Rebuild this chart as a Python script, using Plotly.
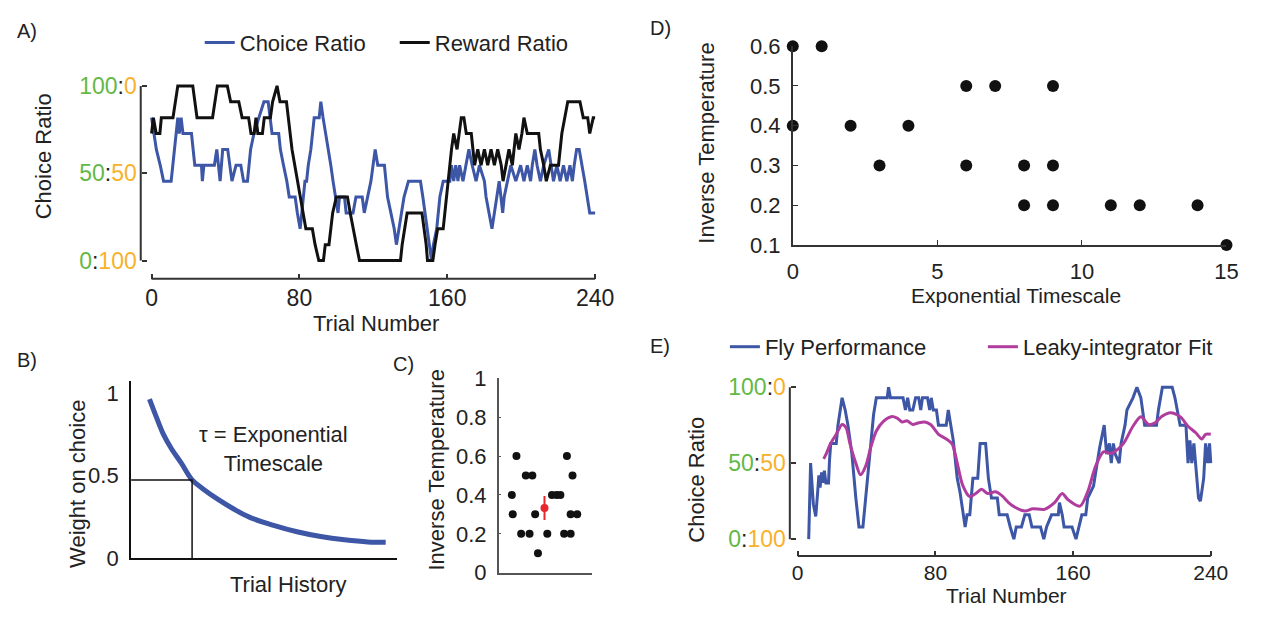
import plotly.graph_objects as go

W, H = 1270, 619
def px(x): return x / W
def py(y): return 1 - y / H

BLUE = "#3d56a6"
BLACK = "#111111"
MAGENTA = "#b03d9e"
GREEN = "#63b846"
ORANGE = "#f7b12b"
RED = "#e8262b"
TXT = "#222222"
AX = "#333333"
FONT = "Liberation Sans, Arial, sans-serif"

# ---------------- Panel A: choice ratio vs reward ratio (levels in elevenths) -------------
a_choice_trial = [0, 1.2, 2.6, 4.7, 6.5, 10.6, 12.4, 14.2, 15, 16, 17, 21.6, 23.4, 27, 27.5, 28.3,
                  34, 35.3, 37.1, 38.5, 41.2, 43.5, 45.7, 48.3, 49.8, 51.9, 53.6, 55.4, 58.1, 60.8,
                  63.1, 64.3, 65.2, 68.8, 69.7, 71.4, 73.2, 74.5, 77.7, 78.9, 80.4, 81.3, 83, 83.9,
                  84.8, 86.2, 88, 90.7, 91.6, 92.8, 94.3, 95.5, 97, 98.2, 99.6, 100.9, 101.7, 104.4,
                  105.3, 109, 110.6, 114, 115.1, 116.9, 118.7, 121, 122.4, 126, 127.7, 129.5, 131.3,
                  132.5, 134, 136.6, 139, 145.5, 146.8, 148, 149, 150.5, 151.5, 152.5, 154.3, 156,
                  157.8, 161.4, 162.3, 163.5, 164.6, 165.8, 166.7, 168.5, 170.3, 171.7, 173.5, 175.6,
                  177.4, 180.1, 181, 182.8, 184.2, 185.5, 186.7, 188.1, 190, 190.8, 192.6, 194.4,
                  197.1, 199.7, 201.5, 203.3, 205.1, 206, 207.4, 208.6, 210.4, 212.2, 214.9, 216.3,
                  217.5, 219.3, 221.1, 222.9, 224.7, 226.4, 227.7, 228.7, 230, 231.4, 232.7, 234.4,
                  237.1, 240]
a_choice_level = [9, 8, 7, 6, 5, 5, 7, 9, 8, 9, 8, 8, 6, 6, 5, 6,
                  6, 7, 5, 7, 7, 5, 6, 6, 5, 5, 7, 8, 9, 10,
                  10, 9, 8, 8, 7, 6, 5, 4, 4, 3, 2, 3, 5, 5,
                  6, 7, 9, 9, 10, 9, 8, 7, 6, 5, 4, 3, 4, 4,
                  3, 3, 4, 4, 3, 4, 5, 7, 6, 6, 4, 3, 2,
                  1, 2, 4, 5, 5, 4, 3, 2, 1, 0, 1, 2, 4,
                  5, 5, 6, 5, 6, 5, 6, 5, 6, 7, 6, 5,
                  6, 5, 4, 3, 2, 3, 4, 5, 3, 4, 5, 6,
                  5, 6, 5, 6, 5, 6, 7, 6, 5, 6, 7, 6,
                  5, 6, 5, 6, 5, 6, 5, 6, 7, 7, 6, 5,
                  3, 3]

a_reward_trial = [0, 1, 2.5, 4.5, 5.3, 11.6, 14.2, 22.3, 24.6, 33, 35.6, 41, 42.8, 47.2, 49, 52.5,
                  53.8, 55.5, 56.5, 57.5, 60, 61, 64.3, 65.5, 67.9, 69.5, 73, 74, 75, 76, 77.5, 79,
                  80.5, 82, 83.5, 87, 88.5, 90.5, 93, 94, 96, 97, 98, 100, 106, 107.5, 109, 110.8,
                  112.5, 134.7, 135.6, 138.3, 146.3, 147.5, 148.6, 149.3, 152.2, 153.4, 154.8, 157.8,
                  158.8, 160.5, 162.3, 163.5, 165.3, 166.4, 167.6, 169, 170.3, 173, 174.8, 176.5,
                  178.3, 180.1, 181.9, 183.7, 185.5, 187.3, 189.2, 190.2, 191.6, 193.4, 195.2, 197.1,
                  198.8, 200.4, 201.5, 203.3, 209.5, 210.4, 212.2, 213.6, 215.8, 220.2, 222, 223.4,
                  225.2, 231.8, 233.6, 236, 237.1, 239, 240]
a_reward_level = [8, 9, 8, 8, 9, 9, 11, 11, 9, 9, 11, 11, 10, 10, 9, 9,
                  8, 8, 9, 8, 8, 9, 9, 10, 11, 10, 10, 9, 8, 7, 6, 5,
                  4, 3, 2, 2, 1, 0, 0, 1, 1, 2, 3, 4, 4, 3, 2, 1,
                  0, 0, 1, 3, 3, 2, 1, 0, 0, 1, 2, 2,
                  3, 5, 7, 8, 7, 8, 9, 9, 8, 8, 6, 7,
                  6, 7, 6, 7, 6, 7, 6, 5, 6, 7, 6, 8,
                  7, 8, 9, 8, 8, 7, 6, 5, 6, 6, 8, 9,
                  10, 10, 9, 9, 8, 9, 9]
a_levels = 11
a_ticks = [0, 80, 160, 240]

# ---------------- Panel B: schematic exponential weighting ----------------
b_hist = [0.069, 0.092, 0.121, 0.151, 0.188, 0.229, 0.269, 0.328, 0.387, 0.446, 0.535, 0.623,
          0.712, 0.801, 0.889, 0.956]
b_weight = [0.965, 0.868, 0.752, 0.665, 0.578, 0.475, 0.422, 0.355, 0.297, 0.248, 0.200, 0.161,
            0.132, 0.112, 0.099, 0.097]
b_tau_x = 0.229
b_half_y = 0.475

# ---------------- Panel C: inverse temperature per fly ----------------
c_pos = [0.19, 0.14, 0.15, 0.29, 0.36, 0.24, 0.33, 0.39, 0.42, 0.52, 0.57, 0.62, 0.66, 0.73,
         0.79, 0.77, 0.84, 0.70, 0.77]
c_beta = [0.6, 0.4, 0.3, 0.5, 0.5, 0.2, 0.2, 0.3, 0.1, 0.2, 0.4, 0.4, 0.4, 0.6,
          0.5, 0.3, 0.3, 0.2, 0.2]
c_mean_pos = [0.49]
c_mean = [0.333]
c_err = [0.062]

# ---------------- Panel D: timescale vs inverse temperature ----------------
d_tau = [0, 1, 0, 2, 4, 3, 6, 7, 9, 6, 8, 9, 8, 9, 11, 12, 14, 15]
d_beta = [0.6, 0.6, 0.4, 0.4, 0.4, 0.3, 0.5, 0.5, 0.5, 0.3, 0.3, 0.3, 0.2, 0.2, 0.2, 0.2, 0.2, 0.1]

# ---------------- Panel E: fly performance and leaky-integrator fit ----------------
e_fly_trial = [6.4, 7.5, 9.1, 10.5, 11.6, 12.3, 13.0, 13.9, 14.6, 15.5, 16.4, 17.9, 18.5, 19.2,
               22.4, 23.4, 25.8, 27.6, 29.2, 31.5, 33.8, 35.6, 37.9, 39.5, 41.8, 44.1, 45.7, 52.0,
               52.8, 53.9, 61.2, 62.6, 63.9, 65.1, 66.9, 68.5, 70.3, 71.5, 72.5, 75.4, 76.7, 77.6,
               78.8, 80.6, 81.8, 86.3, 87.5, 89.1, 90.4, 92.7, 94.3, 97.3, 98.4, 100.0, 101.8,
               104.6, 106.0, 109.2, 110.8, 112.6, 116.0, 117.1, 121.7, 123.5, 125.6, 127.0, 130.0,
               132.0, 134.5, 136.1, 141.1, 143.0, 144.6, 147.5, 151.4, 152.1, 153.7, 154.8, 159.4,
               161.7, 163.5, 165.1, 167.4, 168.5, 171.9, 173.6, 175.4, 178.1, 179.5, 181.1, 182.2,
               183.4, 184.5, 186.8, 187.9, 190.2, 191.3, 194.8, 197.1, 199.4, 201.6, 208.5, 209.6,
               211.9, 217.6, 219.2, 222.2, 225.6, 226.8, 227.9, 229.0, 230.2, 231.3, 232.9, 234.0,
               235.9, 237.0, 238.2, 239.3, 240.0]
e_fly_ratio = [0.0, 0.50, 0.23, 0.15, 0.31, 0.42, 0.34, 0.44, 0.37, 0.45, 0.37, 0.37, 0.52, 0.63,
               0.63, 0.75, 0.93, 0.85, 0.75, 0.56, 0.27, 0.08, 0.08, 0.27, 0.50, 0.82, 0.93, 0.93,
               1.00, 0.93, 0.93, 0.85, 0.93, 0.85, 0.85, 0.93, 0.93, 0.85, 0.93, 0.93, 0.85, 0.93,
               0.85, 0.85, 0.75, 0.75, 0.85, 0.75, 0.65, 0.40, 0.31, 0.08, 0.16, 0.16, 0.40,
               0.40, 0.63, 0.63, 0.40, 0.27, 0.27, 0.16, 0.16, 0.08, 0.0, 0.08, 0.08,
               0.16, 0.16, 0.08, 0.08, 0.0, 0.08, 0.16, 0.16, 0.24, 0.16, 0.08, 0.08,
               0.0, 0.08, 0.16, 0.16, 0.27, 0.35, 0.48, 0.60, 0.75, 0.56, 0.63, 0.50,
               0.63, 0.56, 0.50, 0.63, 0.75, 0.85, 0.93, 1.00, 0.93, 0.75, 0.75, 0.85,
               1.00, 1.00, 0.93, 0.75, 0.75, 0.50, 0.65, 0.50, 0.63, 0.50, 0.27, 0.25,
               0.40, 0.63, 0.50, 0.63, 0.50]
e_fit_trial = [15.1, 16.7, 19.0, 22.4, 25.8, 28.1, 30.4, 33.8, 36.5, 39.5, 42.5, 45.7, 49.8, 54.4,
               57.8, 60.7, 63.5, 66.9, 69.9, 73.8, 77.2, 81.8, 86.3, 89.7, 92.7, 95.9, 100.0, 103.4,
               106.9, 110.3, 114.9, 118.3, 124.0, 132.0, 136.6, 143.4, 149.1, 153.7, 157.1, 164.0,
               168.5, 173.1, 177.7, 182.2, 189.1, 194.8, 199.4, 203.9, 207.4, 211.9, 216.5, 222.2,
               226.8, 231.3, 234.8, 237.0, 240.0]
e_fit_ratio = [0.528, 0.564, 0.627, 0.690, 0.754, 0.733, 0.627, 0.500, 0.423, 0.480, 0.606, 0.712,
               0.775, 0.806, 0.796, 0.771, 0.779, 0.754, 0.764, 0.771, 0.754, 0.690, 0.659, 0.627,
               0.500, 0.354, 0.280, 0.300, 0.328, 0.300, 0.312, 0.290, 0.227, 0.185, 0.200, 0.196,
               0.238, 0.300, 0.259, 0.217, 0.312, 0.480, 0.575, 0.564, 0.627, 0.743, 0.806, 0.754,
               0.764, 0.810, 0.832, 0.806, 0.743, 0.700, 0.659, 0.690, 0.690]
e_ticks = [0, 80, 160, 240]

ratio_vals = [0, 0.5, 1]
ratio_left = ["0", "50", "100"]
ratio_right = ["100", "50", "0"]


def ratio_text(a, b):
    return f'<span style="color:{GREEN}">{a}</span>:<span style="color:{ORANGE}">{b}</span>'


ratio_ticktext = [ratio_text(a, b) for a, b in zip(ratio_left, ratio_right)]

fig = go.Figure()

# Panel A traces
fig.add_trace(go.Scatter(x=a_choice_trial, y=[k / a_levels for k in a_choice_level], mode="lines",
                         line=dict(color=BLUE, width=3), name="Choice Ratio", legend="legend",
                         xaxis="x", yaxis="y"))
fig.add_trace(go.Scatter(x=a_reward_trial, y=[k / a_levels for k in a_reward_level], mode="lines",
                         line=dict(color=BLACK, width=3), name="Reward Ratio", legend="legend",
                         xaxis="x", yaxis="y"))

# Panel B traces
fig.add_trace(go.Scatter(x=b_hist, y=b_weight, mode="lines",
                         line=dict(color=BLUE, width=5, shape="spline", smoothing=1.0),
                         showlegend=False, xaxis="x2", yaxis="y2"))
fig.add_trace(go.Scatter(x=[0, b_tau_x, b_tau_x], y=[b_half_y, b_half_y, 0], mode="lines",
                         line=dict(color=BLACK, width=1.5), showlegend=False, xaxis="x2", yaxis="y2"))

# Panel C traces
fig.add_trace(go.Scatter(x=c_pos, y=c_beta, mode="markers", marker=dict(color=BLACK, size=8),
                         cliponaxis=False, showlegend=False, xaxis="x3", yaxis="y3"))
fig.add_trace(go.Scatter(x=c_mean_pos, y=c_mean, mode="markers", marker=dict(color=RED, size=8),
                         error_y=dict(type="data", array=c_err, color=RED, thickness=2, width=0),
                         cliponaxis=False, showlegend=False, xaxis="x3", yaxis="y3"))

# Panel D traces
fig.add_trace(go.Scatter(x=d_tau, y=d_beta, mode="markers", marker=dict(color=BLACK, size=12),
                         cliponaxis=False, showlegend=False, xaxis="x4", yaxis="y4"))

# Panel E traces
fig.add_trace(go.Scatter(x=e_fly_trial, y=e_fly_ratio, mode="lines", line=dict(color=BLUE, width=3),
                         name="Fly Performance", legend="legend2", xaxis="x5", yaxis="y5"))
fig.add_trace(go.Scatter(x=e_fit_trial, y=e_fit_ratio, mode="lines",
                         line=dict(color=MAGENTA, width=3, shape="spline", smoothing=0.8),
                         name="Leaky-integrator Fit", legend="legend2", xaxis="x5", yaxis="y5"))

tickfont = dict(size=22, color=TXT, family=FONT)
ratiofont = dict(size=23, color=TXT, family=FONT)
etickfont = dict(size=21, color=TXT, family=FONT)
base = dict(showgrid=False, zeroline=False, fixedrange=True)

layout = dict(
    width=W, height=H, margin=dict(l=0, r=0, t=0, b=0),
    paper_bgcolor="white", plot_bgcolor="white",
    font=dict(family=FONT, size=21, color=TXT),
    # A
    xaxis=dict(**base, domain=[px(144.24), px(602.76)], range=[-2, 242], anchor="free",
               position=py(278), showline=False, ticks="inside", ticklen=5, tickwidth=1.5,
               tickcolor=AX, tickvals=a_ticks, tickfont=ratiofont, ticklabelstandoff=3),
    yaxis=dict(**base, domain=[py(262.64), py(73.36)], range=[-0.02, 1.02], anchor="free",
               position=px(137), showline=False, ticks="inside", ticklen=5, tickwidth=1.5,
               tickcolor=AX, tickvals=ratio_vals, ticktext=ratio_ticktext, tickfont=ratiofont,
               ticklabelstandoff=4),
    # B
    xaxis2=dict(**base, domain=[px(127.2), px(398)], range=[0, 1], anchor="y2", showline=True,
                linecolor=BLACK, linewidth=2, ticks="", showticklabels=False),
    yaxis2=dict(**base, domain=[py(569.3), py(385)], range=[0, 1.0715], anchor="x2", showline=True,
                linecolor=BLACK, linewidth=2, ticks="", tickvals=[0, 0.5, 1],
                ticktext=["0", "0.5", "1"], tickfont=tickfont, ticklabelstandoff=6),
    # C
    xaxis3=dict(**base, domain=[px(501), px(596)], range=[0, 1], anchor="y3", showline=True,
                linecolor="#555555", linewidth=1.5, ticks="", showticklabels=False),
    yaxis3=dict(**base, domain=[py(584.3), py(381.7)], range=[0, 1], anchor="x3", showline=True,
                linecolor="#555555", linewidth=1.5, ticks="inside", ticklen=3, tickcolor="#555555",
                tickvals=[0, 0.2, 0.4, 0.6, 0.8, 1], ticktext=["0", "0.2", "0.4", "0.6", "0.8", "1"],
                tickfont=tickfont, ticklabelstandoff=6),
    # D
    xaxis4=dict(**base, domain=[px(800), px(1241)], range=[0, 15], anchor="y4", showline=True,
                linecolor=AX, linewidth=1.5, ticks="inside", ticklen=5, tickcolor=AX,
                tickvals=[0, 5, 10, 15], tickfont=tickfont, ticklabelstandoff=6),
    yaxis4=dict(**base, domain=[py(242.7), py(35.7)], range=[0.1, 0.6], anchor="x4", showline=True,
                linecolor=AX, linewidth=1.5, ticks="inside", ticklen=5, tickcolor=AX,
                tickvals=[0.1, 0.2, 0.3, 0.4, 0.5, 0.6], tickformat=".1f", tickfont=tickfont,
                ticklabelstandoff=6),
    # E
    xaxis5=dict(**base, domain=[px(801.5), px(1228.5)], range=[-2, 242], anchor="free",
                position=py(567), showline=False, ticks="inside", ticklen=5, tickwidth=1.5,
                tickcolor=AX, tickvals=e_ticks, tickfont=etickfont, ticklabelstandoff=2),
    yaxis5=dict(**base, domain=[py(552.5), py(387.8)], range=[-0.02, 1.02], anchor="free",
                position=px(797), showline=False, ticks="inside", ticklen=5, tickwidth=1.5,
                tickcolor=AX, tickvals=ratio_vals, ticktext=ratio_ticktext, tickfont=ratiofont,
                ticklabelstandoff=4),
    legend=dict(x=px(197), y=py(32), xanchor="left", yanchor="middle", orientation="h",
                font=dict(size=22, color=TXT), bgcolor="rgba(0,0,0,0)", entrywidth=150,
                entrywidthmode="pixels", itemwidth=30),
    legend2=dict(x=px(731), y=py(349), xanchor="left", yanchor="middle", orientation="h",
                 font=dict(size=22, color=TXT), bgcolor="rgba(0,0,0,0)", entrywidth=213,
                 entrywidthmode="pixels", itemwidth=30),
)

shapes = [
    # A detached axis lines
    dict(type="line", xref="x", yref="paper", x0=0, x1=240, y0=py(278), y1=py(278),
         line=dict(color=AX, width=2)),
    dict(type="line", xref="paper", yref="y", x0=px(137), x1=px(137), y0=0, y1=1,
         line=dict(color=AX, width=2)),
    # E detached axis lines
    dict(type="line", xref="x5", yref="paper", x0=0, x1=240, y0=py(567), y1=py(567),
         line=dict(color=AX, width=2)),
    dict(type="line", xref="paper", yref="y5", x0=px(797), x1=px(797), y0=0, y1=1,
         line=dict(color=AX, width=2)),
]
layout["shapes"] = shapes


def ann(text, x, y, size=21, angle=0, xanchor="center"):
    return dict(text=text, x=px(x), y=py(y), xref="paper", yref="paper", showarrow=False,
                xanchor=xanchor, yanchor="middle", textangle=angle,
                font=dict(size=size, color=TXT, family=FONT))


annotations = [
    ann("A)", 9, 20, 20, xanchor="left"),
    ann("B)", 9, 363, 20, xanchor="left"),
    ann("C)", 391, 367, 20, xanchor="left"),
    ann("D)", 653, 17, 20, xanchor="left"),
    ann("E)", 653, 348, 20, xanchor="left"),
    ann("Choice Ratio", 39, 150, 22, angle=-90),
    ann("Trial Number", 376, 325, 22),
    ann("Weight on choice", 72, 492, 22, angle=-90),
    ann("Trial History", 287, 597, 22),
    ann("Inverse Temperature", 438, 477, 22, angle=-90),
    ann("Inverse Temperature", 712, 137, 22, angle=-90),
    ann("Exponential Timescale", 1027, 295, 21),
    ann("Choice Ratio", 702, 487, 22, angle=-90),
    ann("Trial Number", 1017, 608, 21),
    dict(text="τ = Exponential<br>Timescale", x=0.535, y=0.664, xref="x2", yref="y2",
         showarrow=False, xanchor="center", yanchor="middle", align="center",
         font=dict(size=22, color=TXT, family=FONT)),
]
layout["annotations"] = annotations

fig.update_layout(**layout)
fig.write_html("out.html")
